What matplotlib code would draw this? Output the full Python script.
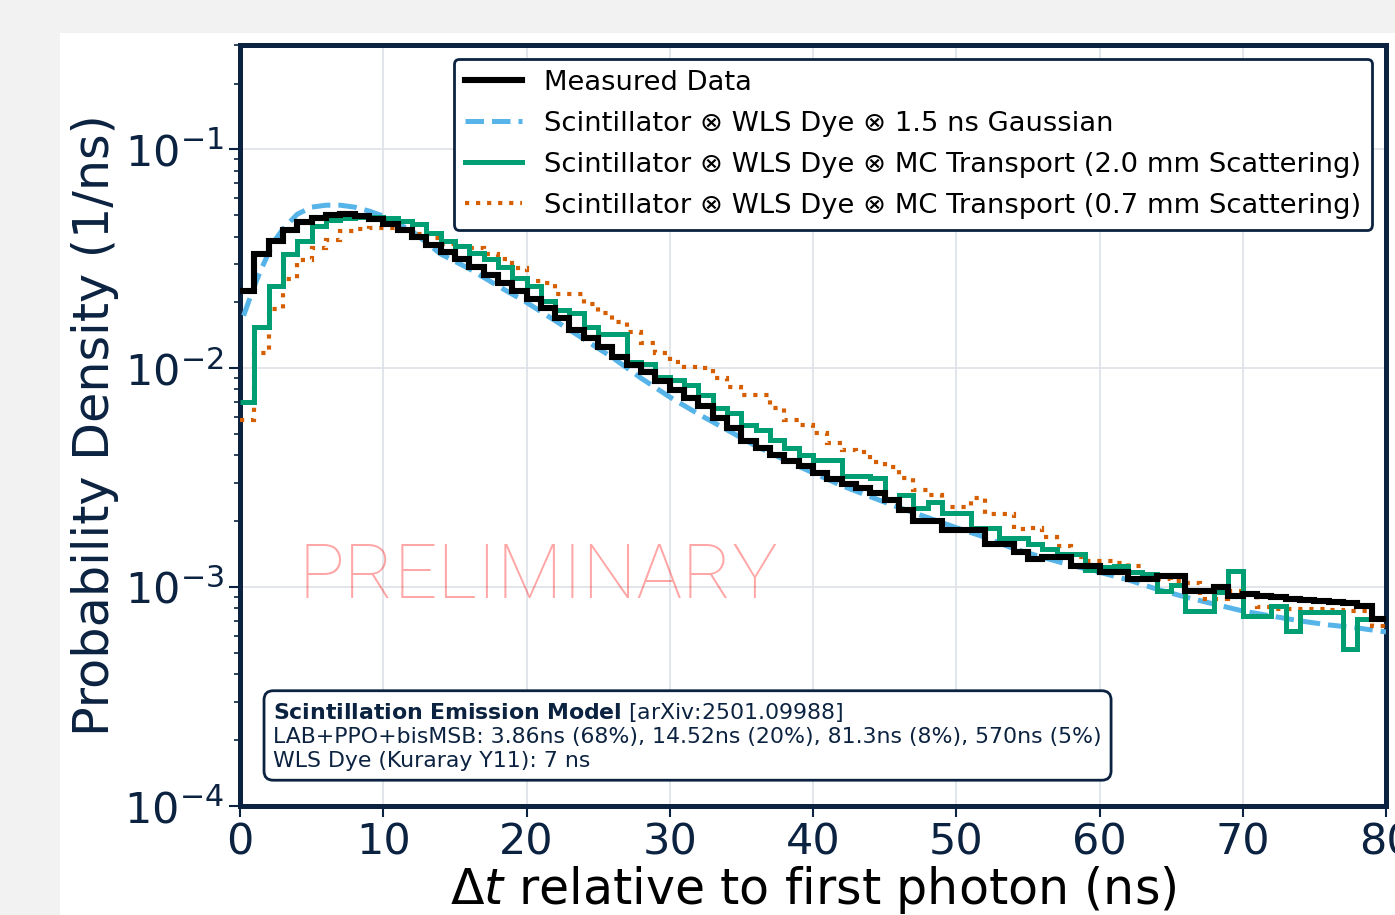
import numpy as np
import matplotlib.pyplot as plt
from matplotlib.patches import Rectangle
from matplotlib.lines import Line2D

navy = "#0b2240"

# 1 ns bins from 0 to 80 ns
bin_edges = np.arange(0, 81, 1)

measured = [
    0.0226, 0.0333, 0.0382, 0.0428, 0.0466, 0.0486, 0.0501, 0.0506, 0.0496, 0.0481,
    0.0456, 0.0428, 0.0398, 0.0366, 0.0340, 0.0316, 0.0291, 0.0268, 0.0246, 0.0226,
    0.0208, 0.0189, 0.0169, 0.0150, 0.0137, 0.0125, 0.0113, 0.0104, 0.00959, 0.00873,
    0.00794, 0.00731, 0.00672, 0.00593, 0.00534, 0.00466, 0.00433, 0.00402, 0.00378, 0.00358,
    0.00333, 0.00313, 0.00297, 0.00285, 0.00268, 0.00251, 0.00226, 0.00200, 0.00200, 0.00182,
    0.00182, 0.00182, 0.00157, 0.00157, 0.00144, 0.00134, 0.00138, 0.00138, 0.00125, 0.00125,
    0.00117, 0.00117, 0.00109, 0.00109, 0.00112, 0.00112, 0.000959, 0.000959, 0.00100, 0.000910,
    0.000929, 0.000910, 0.000901, 0.000882, 0.000873, 0.000864, 0.000855, 0.000846, 0.000820, 0.000715,
]

mc_2mm = [
    0.00701, 0.0154, 0.0238, 0.0333, 0.0382, 0.0447, 0.0476, 0.0486, 0.0491, 0.0491,
    0.0486, 0.0471, 0.0456, 0.0415, 0.0382, 0.0362, 0.0337, 0.0316, 0.0291, 0.0259,
    0.0238, 0.0204, 0.0184, 0.0178, 0.0155, 0.0144, 0.0144, 0.0107, 0.0105, 0.00910,
    0.00882, 0.00837, 0.00754, 0.00658, 0.00624, 0.00551, 0.00523, 0.00471, 0.00433, 0.00402,
    0.00380, 0.00380, 0.00323, 0.00323, 0.00316, 0.00251, 0.00265, 0.00231, 0.00246, 0.00219,
    0.00219, 0.00187, 0.00187, 0.00167, 0.00167, 0.00157, 0.00149, 0.00141, 0.00141, 0.00120,
    0.00123, 0.00125, 0.00117, 0.00115, 0.000959, 0.00102, 0.000778, 0.000778, 0.000949, 0.00118,
    0.000738, 0.000738, 0.000820, 0.000631, 0.000770, 0.000770, 0.000770, 0.000523, 0.000715, 0.000715,
]

mc_07mm = [
    0.00580, 0.0117, 0.0187, 0.0257, 0.0313, 0.0355, 0.0386, 0.0424, 0.0433, 0.0438,
    0.0438, 0.0433, 0.0411, 0.0394, 0.0370, 0.0362, 0.0355, 0.0333, 0.0316, 0.0288,
    0.0251, 0.0246, 0.0219, 0.0219, 0.0197, 0.0178, 0.0162, 0.0146, 0.0131, 0.0118,
    0.0107, 0.0101, 0.0100, 0.00901, 0.00820, 0.00754, 0.00754, 0.00658, 0.00580, 0.00551,
    0.00506, 0.00456, 0.00424, 0.00415, 0.00374, 0.00355, 0.00316, 0.00279, 0.00265, 0.00233,
    0.00233, 0.00256, 0.00217, 0.00217, 0.00184, 0.00187, 0.00169, 0.00154, 0.00137, 0.00131,
    0.00131, 0.00129, 0.00125, 0.00112, 0.00109, 0.00107, 0.00105, 0.000882, 0.000882, 0.000959,
    0.000929, 0.000811, 0.000794, 0.000794, 0.000794, 0.000794, 0.000786, 0.000778, 0.000778, 0.000665,
]

gauss_t = [0.25, 0.5, 1, 1.5, 2, 2.5, 3, 4, 5, 6, 7, 8, 9, 10, 12, 14, 16, 18, 20, 22, 24, 26,
           28, 30, 32, 34, 36, 38, 40, 42, 44, 46, 48, 50, 52, 54, 56, 58, 60, 62, 64, 66,
           68, 70, 72, 74, 76, 78, 80]
gauss_pdf = [0.0174, 0.0193, 0.0238, 0.0285, 0.0337, 0.0390, 0.0433, 0.0506, 0.0545, 0.0556,
             0.0556, 0.0545, 0.0523, 0.0496, 0.0424, 0.0333, 0.0285, 0.0238, 0.0200, 0.0165,
             0.0136, 0.0112, 0.00901, 0.00739, 0.00618, 0.00523, 0.00442, 0.00382, 0.00333,
             0.00291, 0.00259, 0.00231, 0.00208, 0.00187, 0.00169, 0.00150, 0.00137, 0.00126,
             0.00117, 0.00108, 0.000979, 0.000901, 0.000837, 0.000778, 0.000738, 0.000701,
             0.000672, 0.000651, 0.000624]

labels = [
    "Measured Data",
    "Scintillator \u2297 WLS Dye \u2297 1.5 ns Gaussian",
    "Scintillator \u2297 WLS Dye \u2297 MC Transport (2.0 mm Scattering)",
    "Scintillator \u2297 WLS Dye \u2297 MC Transport (0.7 mm Scattering)",
]
colors = ["black", "#56B4E9", "#009E73", "#D55E00"]

fig = plt.figure(figsize=(13.95, 9.15), dpi=100, facecolor="#f2f2f2")
fig.patches.append(Rectangle((60 / 1395, 0), 1, (915 - 33) / 915, transform=fig.transFigure,
                             facecolor="white", edgecolor="none", zorder=-10))
ax = fig.add_axes([240 / 1395, 109 / 915, 1146 / 1395, 761 / 915])
ax.set_zorder(1)

ax.plot(gauss_t, gauss_pdf, ls="--", color=colors[1], lw=3.6, zorder=3)
ax.stairs(mc_07mm, bin_edges, baseline=None, color=colors[3], lw=3.0, ls=":", zorder=3.5)
ax.stairs(mc_2mm, bin_edges, baseline=None, color=colors[2], lw=3.6, zorder=4)
ax.stairs(measured, bin_edges, baseline=None, color=colors[0], lw=4.4, zorder=5)

ax.set_yscale("log")
ax.set_xlim(0, 80)
ax.set_ylim(1e-4, 0.3)
ax.set_xticks(range(0, 81, 10))
ax.grid(True, which="major", color="#dde1e8", lw=1.2, zorder=0)

for s in ax.spines.values():
    s.set_color(navy)
    s.set_linewidth(3.6)
ax.tick_params(which="major", length=8, width=1.5, color=navy, labelsize=31, labelcolor=navy)
ax.tick_params(which="minor", length=4, width=1.2, color=navy)

ax.set_ylabel("Probability Density (1/ns)", fontsize=35.5, color=navy, labelpad=4)
ax.set_xlabel(r"$\Delta t$ relative to first photon (ns)", fontsize=35.3, color="black", labelpad=0)

handles = [
    Line2D([], [], color=colors[0], lw=4.4),
    Line2D([], [], color=colors[1], lw=3.6, ls="--"),
    Line2D([], [], color=colors[2], lw=3.6),
    Line2D([], [], color=colors[3], lw=3.0, ls=":"),
]
leg = ax.legend(handles, labels, loc="upper right", fontsize=19.7, fancybox=True,
                framealpha=1, edgecolor=navy, handlelength=2.1, labelspacing=0.55,
                borderaxespad=0.5)
leg.get_frame().set_linewidth(2)
leg.set_zorder(10)

ax.text(0.26, 0.30, "PRELIMINARY", transform=ax.transAxes, fontsize=55, color="red",
        alpha=0.35, ha="center", va="center", family="Roboto", weight="light", zorder=2)

box_text = (r"$\bf{Scintillation\ Emission\ Model}$ [arXiv:2501.09988]" "\n"
            "LAB+PPO+bisMSB: 3.86ns (68%), 14.52ns (20%), 81.3ns (8%), 570ns (5%)\n"
            "WLS Dye (Kuraray Y11): 7 ns")
ax.text(0.029, 0.046, box_text, transform=ax.transAxes, fontsize=15.8, color=navy,
        ha="left", va="bottom", linespacing=1.22, zorder=10,
        bbox=dict(boxstyle="round,pad=0.42", fc="white", ec=navy, lw=2))

fig.savefig("out.png", dpi=100, facecolor=fig.get_facecolor())
